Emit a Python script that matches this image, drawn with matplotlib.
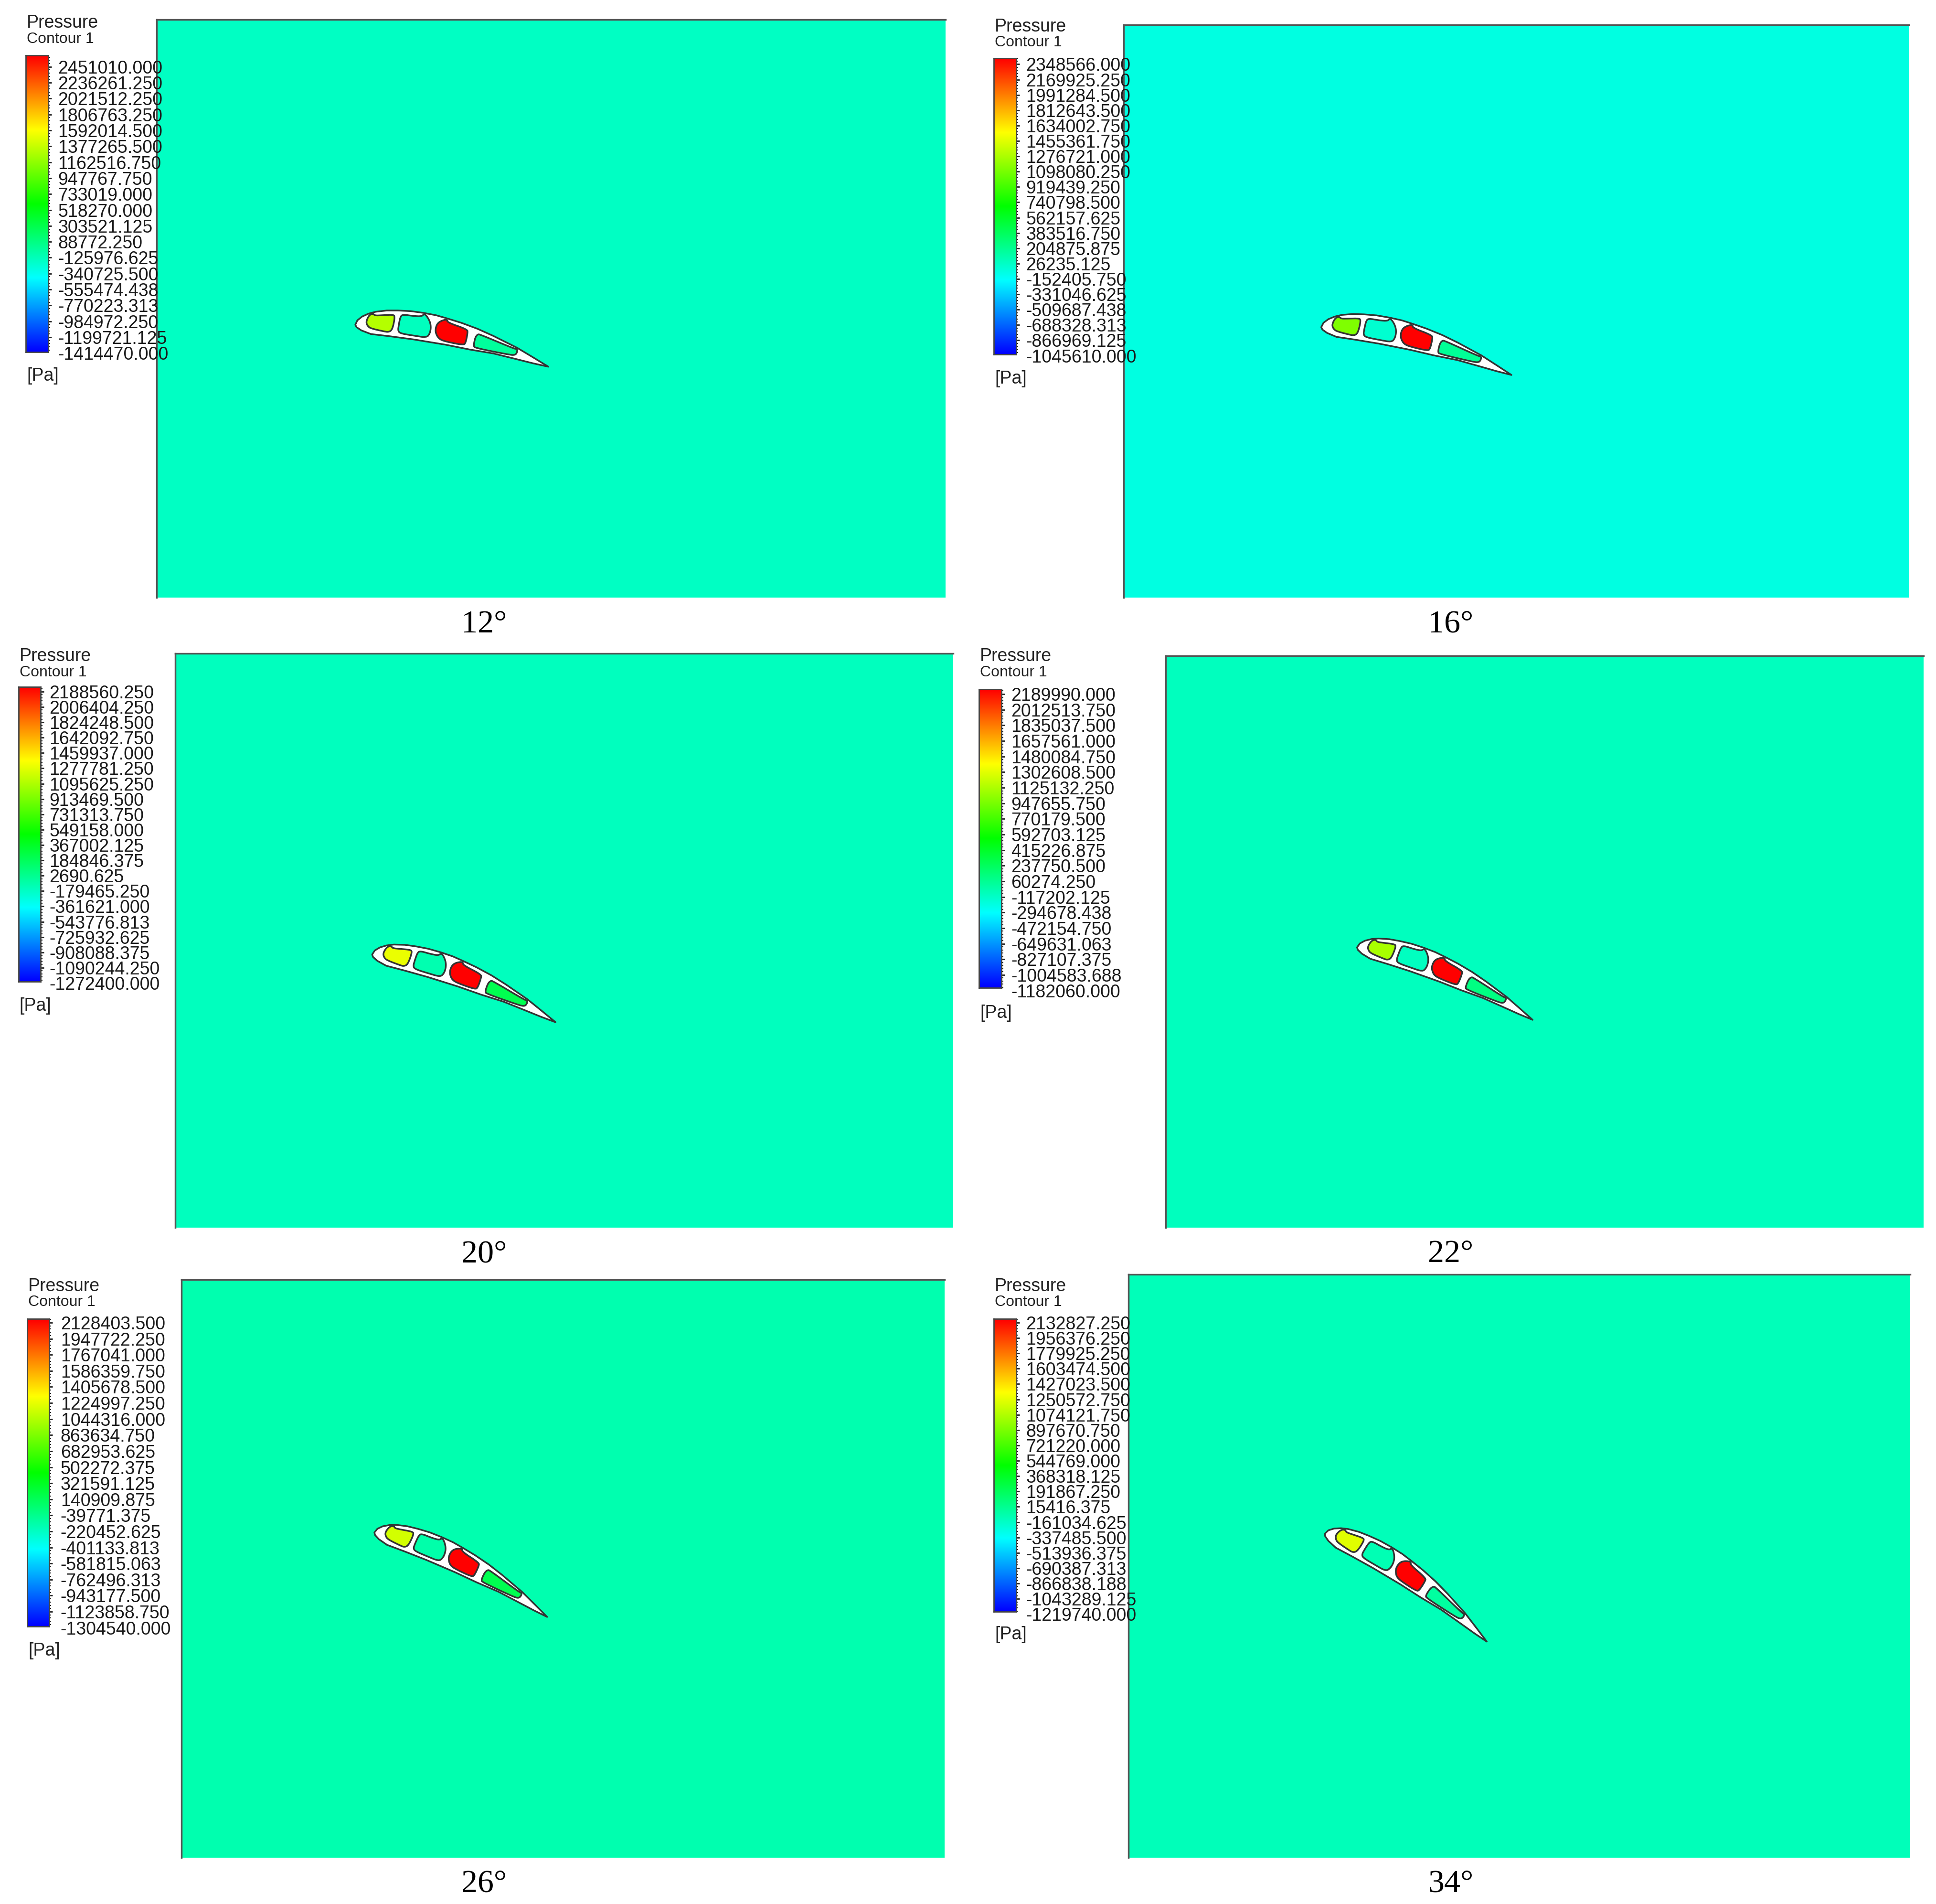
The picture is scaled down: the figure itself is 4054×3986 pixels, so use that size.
import numpy as np
import matplotlib
matplotlib.use("Agg")
import matplotlib.pyplot as plt
from matplotlib.colors import LinearSegmentedColormap, Normalize
from matplotlib.patches import Polygon
from matplotlib.ticker import AutoMinorLocator

W, H = 4054, 3986
S = 4054 / 1568  # positions below were read on the shrunk picture

captions = ['12°', '16°', '20°', '22°', '26°', '34°']

labels_12 = ['2451010.000', '2236261.250', '2021512.250', '1806763.250', '1592014.500', '1377265.500',
             '1162516.750', '947767.750', '733019.000', '518270.000', '303521.125', '88772.250',
             '-125976.625', '-340725.500', '-555474.438', '-770223.313', '-984972.250', '-1199721.125',
             '-1414470.000']
labels_16 = ['2348566.000', '2169925.250', '1991284.500', '1812643.500', '1634002.750', '1455361.750',
             '1276721.000', '1098080.250', '919439.250', '740798.500', '562157.625', '383516.750',
             '204875.875', '26235.125', '-152405.750', '-331046.625', '-509687.438', '-688328.313',
             '-866969.125', '-1045610.000']
labels_20 = ['2188560.250', '2006404.250', '1824248.500', '1642092.750', '1459937.000', '1277781.250',
             '1095625.250', '913469.500', '731313.750', '549158.000', '367002.125', '184846.375',
             '2690.625', '-179465.250', '-361621.000', '-543776.813', '-725932.625', '-908088.375',
             '-1090244.250', '-1272400.000']
labels_22 = ['2189990.000', '2012513.750', '1835037.500', '1657561.000', '1480084.750', '1302608.500',
             '1125132.250', '947655.750', '770179.500', '592703.125', '415226.875', '237750.500',
             '60274.250', '-117202.125', '-294678.438', '-472154.750', '-649631.063', '-827107.375',
             '-1004583.688', '-1182060.000']
labels_26 = ['2128403.500', '1947722.250', '1767041.000', '1586359.750', '1405678.500', '1224997.250',
             '1044316.000', '863634.750', '682953.625', '502272.375', '321591.125', '140909.875',
             '-39771.375', '-220452.625', '-401133.813', '-581815.063', '-762496.313', '-943177.500',
             '-1123858.750', '-1304540.000']
labels_34 = ['2132827.250', '1956376.250', '1779925.250', '1603474.500', '1427023.500', '1250572.750',
             '1074121.750', '897670.750', '721220.000', '544769.000', '368318.125', '191867.250',
             '15416.375', '-161034.625', '-337485.500', '-513936.375', '-690387.313', '-866838.188',
             '-1043289.125', '-1219740.000']
all_labels = [labels_12, labels_16, labels_20, labels_22, labels_26, labels_34]

# colours of the far field and of the four cavities (front to back)
field_colors = ['#00FFC3', '#00FFE1', '#00FFBE', '#00FFBE', '#00FFAF', '#00FFB9']
cavity_colors = [['#B4FF00', '#00FFBE', '#FF0000', '#00FF9C'],
                 ['#7FFF00', '#00FFD0', '#FF0000', '#00FF96'],
                 ['#EBFF00', '#00FFB0', '#FF0000', '#00FF50'],
                 ['#A8FF00', '#00FFC0', '#FF0000', '#00FF82'],
                 ['#D2FF00', '#00FFAA', '#FF0000', '#00FF50'],
                 ['#E0FF00', '#00FFB4', '#FF0000', '#00FFA0']]

# airfoil shape, traced on the 12 degree panel
outline = [(132, 240), (145, 212), (175, 188), (215, 170), (260, 158), (330, 150), (400, 150), (480, 154),
           (560, 165), (640, 180), (710, 200), (800, 228), (900, 265), (1000, 310), (1080, 350), (1150, 385),
           (1250, 445), (1345, 503), (1250, 482), (1130, 452), (1000, 420), (850, 395), (700, 365), (500, 332),
           (350, 312), (230, 298), (170, 275), (140, 255)]
cavity_a = [(255, 182), (300, 180), (372, 176), (380, 190), (372, 240), (360, 275), (340, 285), (320, 283),
            (230, 263), (210, 248), (200, 225), (210, 195), (225, 175), (245, 170)]
cavity_b = [(430, 175), (500, 185), (550, 187), (565, 170), (585, 190), (603, 225), (607, 260), (600, 295),
            (580, 320), (500, 308), (420, 295), (400, 280), (405, 240), (415, 190)]
cavity_c = [(710, 205), (710, 225), (835, 268), (838, 290), (825, 355), (810, 367), (700, 345), (660, 330),
            (640, 300), (635, 270), (645, 235), (670, 215)]
cavity_d = [(900, 300), (915, 300), (1130, 390), (1150, 392), (1148, 415), (1135, 430), (1100, 428), (885, 385),
            (875, 372), (885, 320)]
cavities = [cavity_a, cavity_b, cavity_c, cavity_d]

# leading and trailing edge of the airfoil in each panel, full size pixels
leading = [(744, 680), (2766.7, 685), (779.3, 1998.3), (2841.7, 1983.3), (784, 3208.3), (2774.3, 3210.7)]
trailing = [(1148.3, 767.7), (3165, 785), (1163.3, 2140), (3209.3, 2135), (1145.7, 3385), (3113.3, 3436.7)]

# layout, read on the shrunk picture
field_boxes = [(127, 16, 766, 484), (910, 20, 1546, 484), (142, 529, 772, 994),
               (944, 531, 1558, 994), (147, 1036, 765, 1504), (914, 1032, 1547, 1504)]
bar_boxes = [(21, 45, 39, 285), (805, 47, 823, 287), (15, 556, 33, 795),
             (793, 558, 811, 800), (22, 1068, 40, 1317), (805, 1068, 823, 1305)]
label_x = [47, 831, 40, 819, 49, 831]
label_first = [54, 52, 560, 562, 1071, 1071]
label_last = [286, 288, 796, 802, 1318, 1307]
title_y = [17, 20, 530, 530, 1040, 1040]
contour_y = [30, 33, 543, 543, 1053, 1053]
unit_y = [303, 305, 813, 819, 1335, 1322]
caption_x = [392, 1175, 392, 1175, 392, 1175]
caption_y = [504, 504, 1014, 1014, 1524, 1524]

fluent = LinearSegmentedColormap.from_list('fluent', ['#0000FF', '#00FFFF', '#00FF00', '#FFFF00', '#FF0000'])

plt.rcParams['font.family'] = ['Liberation Sans', 'DejaVu Sans']
fig = plt.figure(figsize=(W / 100, H / 100), dpi=100, facecolor='white')


def px_axes(x0, y0, x1, y1):
    return fig.add_axes([x0 / W, 1 - y1 / H, (x1 - x0) / W, (y1 - y0) / H])


def place(points, le, te):
    # move the traced shape onto a panel, keeps it rigid apart from scale
    pts = np.array(points, dtype=float)
    z = pts[:, 0] + 1j * pts[:, 1]
    base_le = complex(*outline[0])
    base_te = complex(*outline[17])
    z = (z - base_le) / (base_te - base_le) * (complex(*te) - complex(*le)) + complex(*le)
    return np.column_stack([z.real, z.imag])


def round_corners(pts, passes=2):
    # corner cutting, the cavities have soft corners
    for _ in range(passes):
        nxt = np.roll(pts, -1, axis=0)
        pts = np.column_stack([0.75 * pts + 0.25 * nxt, 0.25 * pts + 0.75 * nxt]).reshape(-1, 2)
    return pts


def put_text(x, y, s, size, **kw):
    fig.text(x / W, 1 - (y + 4) / H, s, fontsize=size, va='center', zorder=5, **kw)


for i in range(6):
    # far field
    x0, y0, x1, y1 = [v * S for v in field_boxes[i]]
    ax = px_axes(x0, y0, x1, y1)
    ax.set_facecolor(field_colors[i])
    ax.set_xticks([])
    ax.set_yticks([])
    ax.spines['right'].set_visible(False)
    ax.spines['bottom'].set_visible(False)
    ax.spines['left'].set_color('#555555')
    ax.spines['top'].set_color('#555555')
    ax.spines['left'].set_linewidth(2.5)
    ax.spines['top'].set_linewidth(2.5)
    ax.set_xlim(x0, x1)
    ax.set_ylim(y1, y0)

    # airfoil
    le, te = leading[i], trailing[i]
    ax.add_patch(Polygon(place(outline, le, te), closed=True, facecolor='white', edgecolor='#333333', lw=2.5,
                         joinstyle='round'))
    for cav, col in zip(cavities, cavity_colors[i]):
        ax.add_patch(Polygon(round_corners(place(cav, le, te)), closed=True, facecolor=col, edgecolor='#333333',
                             lw=2.5, joinstyle='round'))

    # colour bar, the end labels sit a little inside the bar
    values = [float(v) for v in all_labels[i]]
    bx0, by0, bx1, by1 = [v * S for v in bar_boxes[i]]
    first, last = label_first[i] * S, label_last[i] * S
    per_px = (values[0] - values[-1]) / (last - first)
    top = values[0] + (first - by0) * per_px
    bottom = values[-1] - (by1 - last) * per_px
    cax = px_axes(bx0, by0, bx1, by1)
    cax.imshow(np.linspace(bottom, top, 256).reshape(-1, 1), cmap=fluent, norm=Normalize(bottom, top),
               extent=[0, 1, bottom, top], origin='lower', aspect='auto', interpolation='bilinear')
    cax.set_xticks([])
    cax.yaxis.tick_right()
    cax.set_yticks(values)
    cax.set_yticklabels([])
    cax.yaxis.set_minor_locator(AutoMinorLocator(5))
    cax.tick_params(axis='y', which='major', length=5, width=2, color='#222222')
    cax.tick_params(axis='y', which='minor', length=3, width=1.5, color='#222222')
    cax.set_ylim(bottom, top)  # set_yticks can widen the limits, so last
    for sp in cax.spines.values():
        sp.set_color('#444444')
        sp.set_linewidth(2)

    # texts
    ys = np.linspace(first, last, len(values))
    for y, s in zip(ys, all_labels[i]):
        put_text(label_x[i] * S, y, s, 27, color='#1a1a1a')
    put_text(bar_boxes[i][0] * S + 2, title_y[i] * S, 'Pressure', 27, color='#222222')
    put_text(bar_boxes[i][0] * S + 2, contour_y[i] * S, 'Contour 1', 23, color='#222222')
    put_text(bar_boxes[i][0] * S + 2, unit_y[i] * S, '[Pa]', 27, color='#222222')
    fig.text(caption_x[i] * S / W, 1 - (caption_y[i] * S + 4) / H, captions[i], fontsize=49, ha='center', va='center',
             family='Liberation Serif', color='black', zorder=5)

fig.savefig('out.png', dpi=100, facecolor='white')
